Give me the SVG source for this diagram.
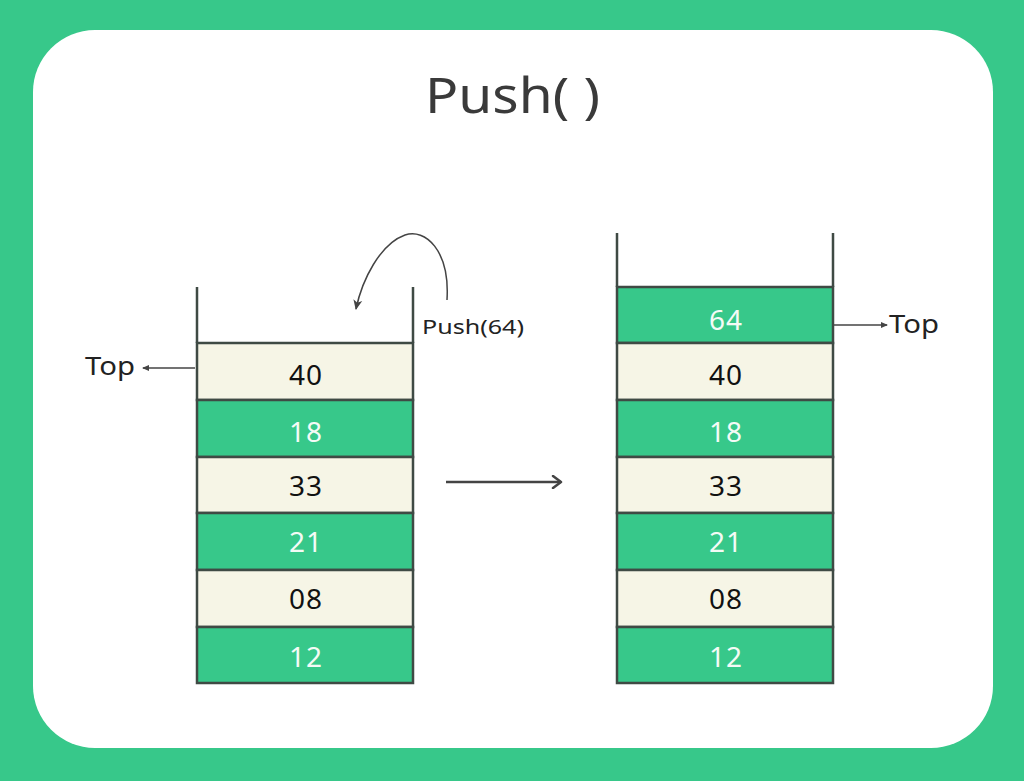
<svg xmlns="http://www.w3.org/2000/svg" width="1024" height="781" viewBox="0 0 1024 781">
<defs>
<style>
.g{fill:#37C88A;stroke:#3f4a44;stroke-width:2.5}
.c{fill:#F6F5E6;stroke:#3f4a44;stroke-width:2.5}
.tw{font-family:"Noto Sans","Open Sans",sans-serif;font-size:28px;fill:#F4FBF6;text-anchor:middle;letter-spacing:1px}
.tb{font-family:"Noto Sans","Open Sans",sans-serif;font-size:28px;fill:#111;text-anchor:middle;letter-spacing:1px}
.lbl{font-family:"Noto Sans","Open Sans",sans-serif;fill:#222}
.wall{stroke:#3f4a44;stroke-width:2.5;fill:none}
.ln{stroke:#444;stroke-width:1.5;fill:none}
</style>
<marker id="ah" markerWidth="8" markerHeight="8" refX="6" refY="4" orient="auto" markerUnits="userSpaceOnUse">
<path d="M0,1 L7,4 L0,7 Z" fill="#444"/>
</marker>
<marker id="ah3" markerWidth="12" markerHeight="12" refX="9" refY="6" orient="auto" markerUnits="userSpaceOnUse">
<path d="M0,1.5 L10,6 L0,10.5 L2.5,6 Z" fill="#444"/>
</marker>
<marker id="ah2" markerWidth="14" markerHeight="14" refX="11" refY="7" orient="auto" markerUnits="userSpaceOnUse">
<path d="M3,1 L11,7 L3,13" fill="none" stroke="#444" stroke-width="2.5" stroke-linecap="round" stroke-linejoin="round"/>
</marker>
</defs>
<rect width="1024" height="781" fill="#37C88A"/>
<rect x="33" y="30" width="960" height="718" rx="62" fill="#fff"/>
<text x="425" y="113" textLength="175" lengthAdjust="spacingAndGlyphs" font-family="Noto Sans, Open Sans, sans-serif" font-size="50" fill="#3a3a3a">Push( )</text>

<g id="stack-left">
<path class="wall" d="M197,287 V343 M413,287 V343"/>
<rect class="c" x="197" y="343" width="216" height="57"/><text class="tb" x="306" y="385">40</text>
<rect class="g" x="197" y="400" width="216" height="57"/><text class="tw" x="306" y="442">18</text>
<rect class="c" x="197" y="457" width="216" height="56"/><text class="tb" x="306" y="496">33</text>
<rect class="g" x="197" y="513" width="216" height="57"/><text class="tw" x="306" y="552">21</text>
<rect class="c" x="197" y="570" width="216" height="57"/><text class="tb" x="306" y="609">08</text>
<rect class="g" x="197" y="627" width="216" height="56"/><text class="tw" x="306" y="667">12</text>
</g>

<g id="stack-right">
<path class="wall" d="M617,233 V287 M833,233 V287"/>
<rect class="g" x="617" y="287" width="216" height="56"/><text class="tw" x="726" y="330">64</text>
<rect class="c" x="617" y="343" width="216" height="57"/><text class="tb" x="726" y="385">40</text>
<rect class="g" x="617" y="400" width="216" height="57"/><text class="tw" x="726" y="442">18</text>
<rect class="c" x="617" y="457" width="216" height="56"/><text class="tb" x="726" y="496">33</text>
<rect class="g" x="617" y="513" width="216" height="57"/><text class="tw" x="726" y="552">21</text>
<rect class="c" x="617" y="570" width="216" height="57"/><text class="tb" x="726" y="609">08</text>
<rect class="g" x="617" y="627" width="216" height="56"/><text class="tw" x="726" y="667">12</text>
</g>

<g id="label-top-left"><text class="lbl" x="85" y="375" font-size="26" textLength="50" lengthAdjust="spacingAndGlyphs">Top</text></g>
<g id="label-top-right"><text class="lbl" x="889" y="333" font-size="26" textLength="50" lengthAdjust="spacingAndGlyphs">Top</text></g>
<g id="label-push"><text class="lbl" x="422" y="334" font-size="20" textLength="102" lengthAdjust="spacingAndGlyphs">Push(64)</text></g>

<g id="connectors">
<line class="ln" x1="195" y1="368" x2="143" y2="368" marker-end="url(#ah)"/>
<line class="ln" x1="834" y1="325" x2="887" y2="325" marker-end="url(#ah)"/>
<path class="ln" d="M447,300 C450,250 425,228 405,235 C380,244 362,280 356,309" marker-end="url(#ah3)"/>
<line x1="446" y1="482" x2="561" y2="482" stroke="#444" stroke-width="2.5" marker-end="url(#ah2)"/>
</g>
</svg>
